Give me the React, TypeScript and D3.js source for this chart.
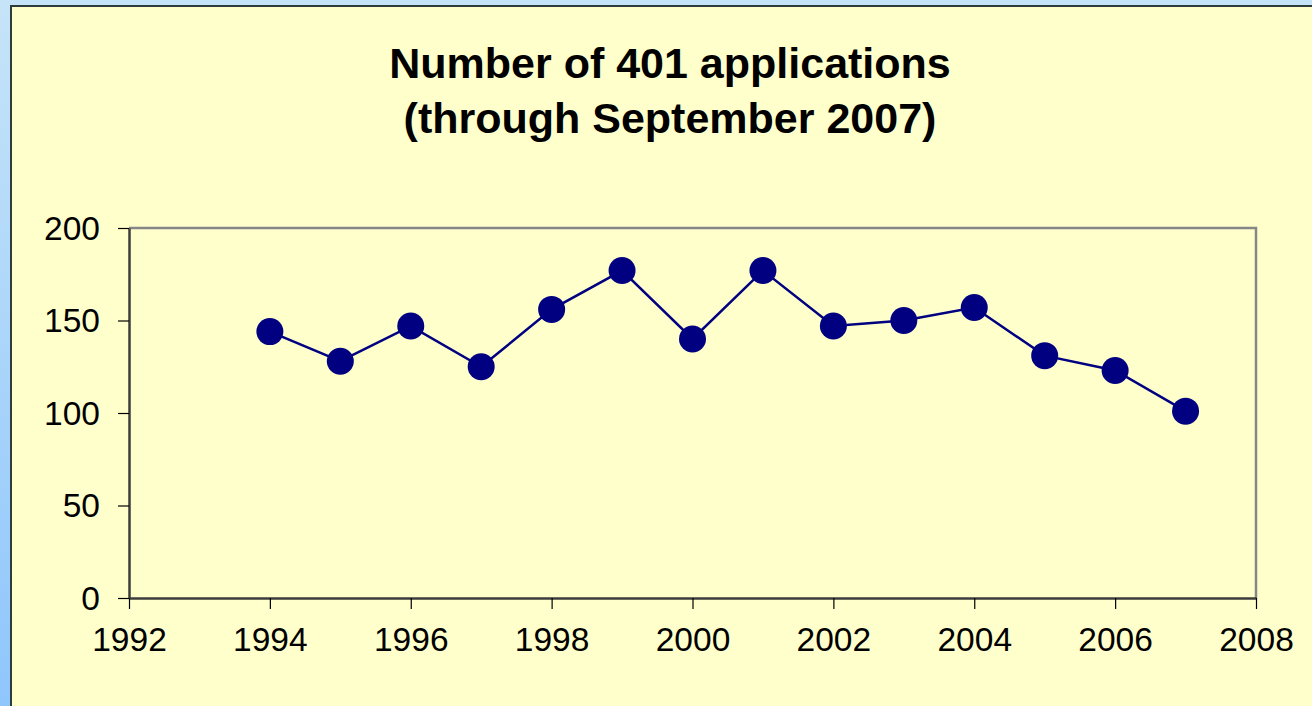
import React, { useRef, useEffect } from 'react';
import * as d3 from 'd3';

// values
const years = [1994, 1995, 1996, 1997, 1998, 1999, 2000, 2001, 2002, 2003, 2004, 2005, 2006, 2007];
const applications = [144, 128, 147, 125, 156, 177, 140, 177, 147, 150, 157, 131, 123, 101];
const xTicks = [1992, 1994, 1996, 1998, 2000, 2002, 2004, 2006, 2008];
const yTicks = [0, 50, 100, 150, 200];
const titleLines = ['Number of 401 applications', '(through September 2007)'];

export default function App() {
  const svgRef = useRef<SVGSVGElement>(null);

  useEffect(() => {
    const svg = d3.select(svgRef.current);
    svg.selectAll('*').remove();

    const w = 1312;
    const h = 706;
    const plot = { left: 129, top: 228, right: 1256, bottom: 598 };

    // blue backdrop with a soft gradient
    const defs = svg.append('defs');
    const grad = defs.append('linearGradient')
      .attr('id', 'bg')
      .attr('x1', 0).attr('y1', 0).attr('x2', 0).attr('y2', 1);
    grad.append('stop').attr('offset', '0%').attr('stop-color', '#c6e4f8');
    grad.append('stop').attr('offset', '100%').attr('stop-color', '#8fc6fc');
    svg.append('rect').attr('width', w).attr('height', h).attr('fill', 'url(#bg)');

    // yellow panel with dark top/left edge
    svg.append('rect')
      .attr('x', 11).attr('y', 6)
      .attr('width', w).attr('height', h)
      .attr('fill', '#ffffcc')
      .attr('stroke', '#2f3c3c')
      .attr('stroke-width', 2);

    // title
    svg.append('text')
      .attr('font-family', 'Liberation Sans, Arial, sans-serif')
      .attr('font-weight', 'bold')
      .attr('font-size', 43)
      .attr('text-anchor', 'middle')
      .selectAll('tspan')
      .data(titleLines)
      .join('tspan')
        .attr('x', 670)
        .attr('y', (d, i) => 78 + i * 55)
        .text(d => d);

    const x = d3.scaleLinear().domain([1992, 2008]).range([plot.left, plot.right]);
    const y = d3.scaleLinear().domain([0, 200]).range([plot.bottom, plot.top]);

    // top and right frame
    svg.append('path')
      .attr('d', `M${plot.left},${plot.top}H${plot.right}V${plot.bottom}`)
      .attr('fill', 'none')
      .attr('stroke', '#868686')
      .attr('stroke-width', 2.5);

    const xAxis = svg.append('g')
      .attr('transform', `translate(0,${plot.bottom})`)
      .call(d3.axisBottom(x).tickValues(xTicks).tickFormat(d3.format('d')).tickSizeInner(11).tickSizeOuter(0).tickPadding(18));
    const yAxis = svg.append('g')
      .attr('transform', `translate(${plot.left},0)`)
      .call(d3.axisLeft(y).tickValues(yTicks).tickSizeInner(11).tickSizeOuter(0).tickPadding(18));

    [xAxis, yAxis].forEach(g => {
      g.select('.domain').attr('stroke', '#3c3c3c').attr('stroke-width', 2.5);
      g.selectAll('.tick line').attr('stroke', '#000').attr('stroke-width', 1.2);
      g.selectAll('.tick text')
        .attr('font-family', 'Liberation Sans, Arial, sans-serif')
        .attr('font-size', 33.5)
        .attr('fill', '#000');
    });
    xAxis.selectAll('.tick text').attr('dy', '0.71em');
    yAxis.selectAll('.tick text').attr('dy', '0.34em');

    const pts = years.map((yr, i) => ({ yr, v: applications[i] }));

    svg.append('path')
      .datum(pts)
      .attr('d', d3.line<{ yr: number; v: number }>().x(d => x(d.yr)).y(d => y(d.v)))
      .attr('fill', 'none')
      .attr('stroke', '#000080')
      .attr('stroke-width', 2.5);

    svg.selectAll('circle.pt')
      .data(pts)
      .join('circle')
        .attr('class', 'pt')
        .attr('cx', d => x(d.yr))
        .attr('cy', d => y(d.v))
        .attr('r', 13.5)
        .attr('fill', '#000080');
  }, []);

  return (
    <svg
      ref={svgRef}
      width={1312}
      height={706}
      style={{ position: 'fixed', left: 0, top: 0, display: 'block' }}
    />
  );
}
